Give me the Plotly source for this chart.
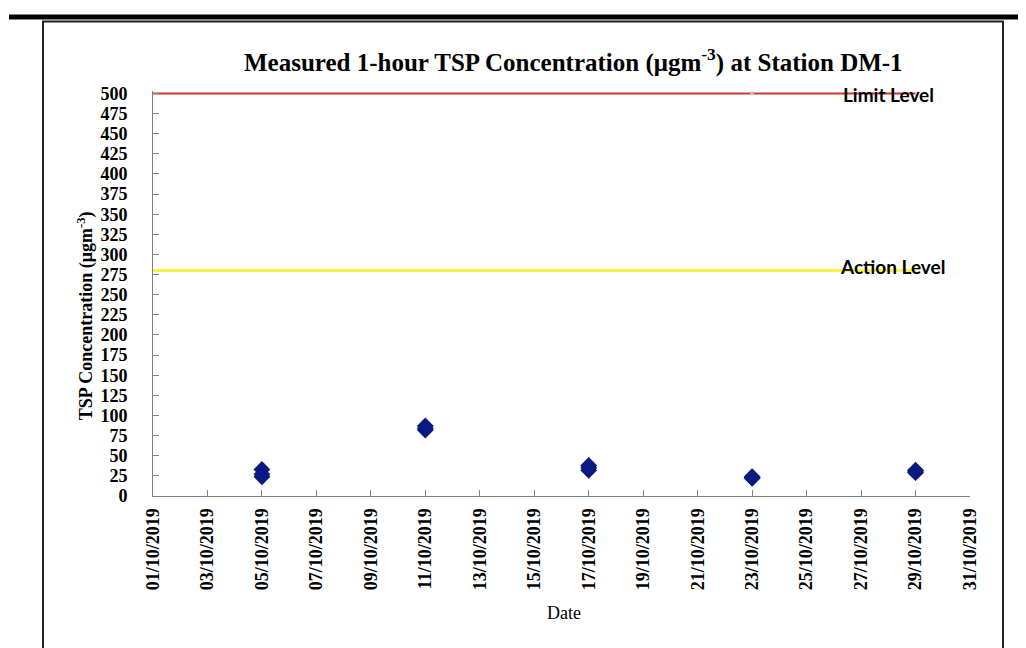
import plotly.graph_objects as go

# ---- data ----
dates = ["2019-10-05", "2019-10-05", "2019-10-05",
         "2019-10-11", "2019-10-11", "2019-10-11",
         "2019-10-17", "2019-10-17", "2019-10-17",
         "2019-10-23", "2019-10-23", "2019-10-23",
         "2019-10-29", "2019-10-29", "2019-10-29"]
tsp = [24, 27, 33,
       82, 84, 87,
       32, 35, 38,
       22, 23, 24,
       29, 31, 32]
limit_dates = ["2019-10-01", "2019-10-29"]
limit_level = [500, 500]
action_dates = ["2019-10-01", "2019-10-29"]
action_level = [280, 280]
tick_dates = ["2019-10-%02d" % d for d in range(1, 32, 2)]
tick_text = ["%02d/10/2019" % d for d in range(1, 32, 2)]
y_ticks = list(range(0, 501, 25))

SERIF = "Liberation Serif"

# the page body has an 8px margin; work in reference-pixel coordinates
OFF = 8
W, H = 1026 - OFF, 648 - OFF
L, R_EDGE, TOP500, BOT = 153, 970, 93, 496   # reference pixels
PX_PER_UNIT = (BOT - TOP500) / 500.0
YMAX = 503
TOP = BOT - YMAX * PX_PER_UNIT
PW = R_EDGE - L
PH = BOT - TOP


def px(X):
    return (X - L) / PW


def py(Y):
    return (BOT - Y) / PH


fig = go.Figure()
fig.add_trace(go.Scatter(x=limit_dates, y=limit_level, mode="lines",
                         line=dict(color="#c8383a", width=2), hoverinfo="skip"))
fig.add_trace(go.Scatter(x=action_dates, y=action_level, mode="lines",
                         line=dict(color="#f5f542", width=3), hoverinfo="skip"))
fig.add_trace(go.Scatter(x=["2019-10-23"], y=[500], mode="markers",
                         marker=dict(symbol="triangle-up", size=5, color="#bbbbbb"),
                         hoverinfo="skip"))
fig.add_trace(go.Scatter(x=dates, y=tsp, mode="markers",
                         marker=dict(symbol="diamond", size=13, color="#0a1a80")))

fig.update_layout(
    width=W, height=H,
    margin=dict(l=L - OFF, r=W - (R_EDGE - OFF), t=TOP - OFF, b=H - (BOT - OFF)),
    paper_bgcolor="white", plot_bgcolor="white",
    showlegend=False,
    font=dict(family=SERIF, color="black"),
)
fig.update_xaxes(
    type="date", range=["2019-10-01", "2019-10-31"],
    tickvals=tick_dates, ticktext=tick_text, tickangle=-90,
    ticks="inside", ticklen=6, tickcolor="#808080",
    showline=True, linecolor="#808080", linewidth=1,
    showgrid=False, zeroline=False,
    tickfont=dict(family=SERIF, size=18, color="black", weight="bold"),
    ticklabelstandoff=4,
)
fig.update_yaxes(
    range=[0, YMAX], tickvals=y_ticks,
    ticks="inside", ticklen=6, tickcolor="#808080",
    showline=True, linecolor="#808080", linewidth=1,
    showgrid=False, zeroline=False,
    tickfont=dict(family=SERIF, size=18, color="black", weight="bold"),
    ticklabelstandoff=21,
)

fig.add_annotation(text="Measured 1-hour TSP Concentration (μgm<sup>-3</sup>) at Station DM-1",
                   xref="paper", yref="paper", x=px(573), y=py(60),
                   showarrow=False, xanchor="center", yanchor="middle",
                   font=dict(family=SERIF, size=25, color="black", weight="bold"))
fig.add_annotation(text="Date", xref="paper", yref="paper",
                   x=px(564), y=py(613),
                   showarrow=False, xanchor="center", yanchor="middle",
                   font=dict(family=SERIF, size=18, color="black"))
fig.add_annotation(text="TSP Concentration (μgm<sup>-3</sup>)", xref="paper", yref="paper",
                   x=px(86), y=py(316), textangle=-90,
                   showarrow=False, xanchor="center", yanchor="middle",
                   font=dict(family=SERIF, size=18, color="black", weight="bold"))
fig.add_annotation(text="Limit Level", xref="paper", yref="paper",
                   x=px(841), y=py(94),
                   showarrow=False, xanchor="left", yanchor="middle",
                   font=dict(family="Lato", size=19, color="black", weight="bold"))
fig.add_annotation(text="Action Level", xref="paper", yref="paper",
                   x=px(838), y=py(266),
                   showarrow=False, xanchor="left", yanchor="middle",
                   font=dict(family="Lato", size=19, color="black", weight="bold"))

# page decorations: thick header bar and chart frame
fig.add_shape(type="rect", xref="paper", yref="paper",
              x0=px(9), x1=px(1040), y0=py(14), y1=py(19),
              fillcolor="black", line=dict(width=0), layer="above")
fig.add_shape(type="rect", xref="paper", yref="paper",
              x0=px(43), x1=px(1003), y0=py(21), y1=py(670),
              fillcolor="rgba(0,0,0,0)", line=dict(color="#222222", width=2), layer="above")

fig.write_html("out.html")
